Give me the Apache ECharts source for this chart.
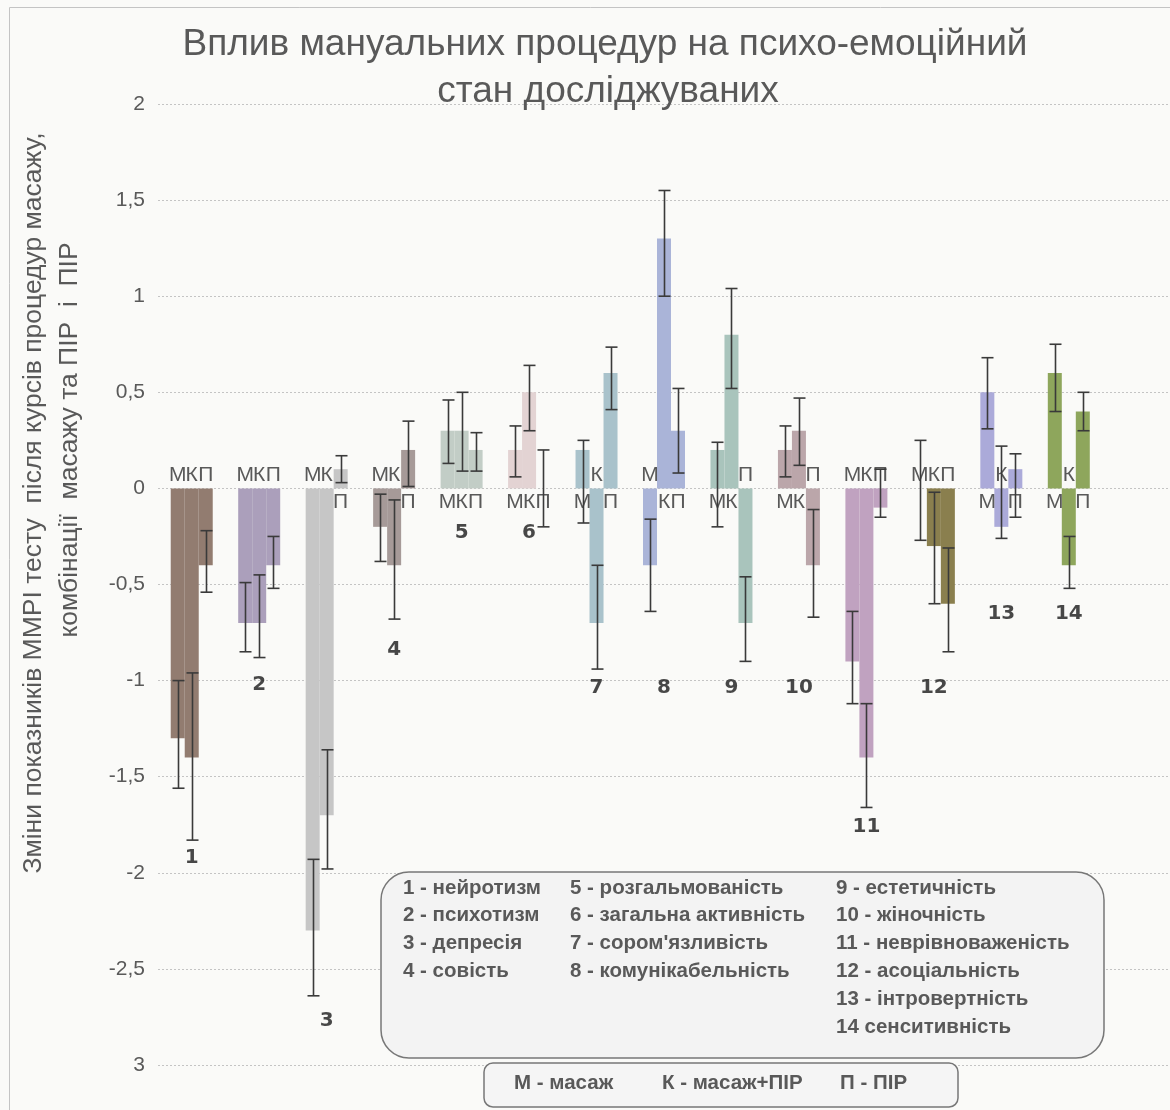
<!DOCTYPE html>
<html><head><meta charset="utf-8">
<script src="https://cdn.jsdelivr.net/npm/echarts@6/dist/echarts.min.js"></script>
<style>html,body{margin:0;padding:0;background:#fafaf8}#c{width:1170px;height:1110px}</style>
</head><body><div id="c"></div><script>
// ---- data ----
const categories = ['1','2','3','4','5','6','7','8','9','10','11','12','13','14'];
const seriesLetters = ['М','К','П'];
const massage  = [-1.3,-0.7,-2.3,-0.2,0.3,0.2,0.2,-0.4,0.2,0.2,-0.9,0,0.5,0.6];
const combined = [-1.4,-0.7,-1.7,-0.4,0.3,0.5,-0.7,1.3,0.8,0.3,-1.4,-0.3,-0.2,-0.4];
const pir      = [-0.4,-0.4,0.1,0.2,0.2,0,0.6,0.3,-0.7,-0.4,-0.1,-0.6,0.1,0.4];
const massageErrLow   = [-1.56,-0.85,-2.64,-0.38,0.13,0.06,-0.18,-0.64,-0.2,0.06,-1.12,-0.27,0.31,0.4];
const massageErrHigh  = [-1.0,-0.49,-1.93,-0.03,0.46,0.325,0.25,-0.16,0.24,0.325,-0.64,0.25,0.68,0.75];
const combinedErrLow  = [-1.83,-0.88,-1.98,-0.68,0.09,0.3,-0.94,1.0,0.52,0.12,-1.66,-0.6,-0.26,-0.52];
const combinedErrHigh = [-0.96,-0.45,-1.36,-0.06,0.5,0.64,-0.4,1.55,1.04,0.47,-1.12,-0.02,0.22,-0.25];
const pirErrLow       = [-0.54,-0.52,0.03,0.01,0.09,-0.2,0.41,0.08,-0.9,-0.67,-0.15,-0.85,-0.15,0.3];
const pirErrHigh      = [-0.22,-0.25,0.17,0.35,0.29,0.2,0.735,0.52,-0.46,-0.11,0.1,-0.31,0.18,0.5];
const yTickLabels = ['3','-2,5','-2','-1,5','-1','-0,5','0','0,5','1','1,5','2'];
const groupLabelLevels = [-1.92,-1.02,-2.77,-0.84,-0.23,-0.23,-1.04,-1.04,-1.04,-1.04,-1.76,-1.04,-0.65,-0.65];
const indicatorNames = ['1 - нейротизм','2 - психотизм','3 - депресія','4 - совість',
  '5 - розгальмованість','6 - загальна активність',"7 - сором'язливість",'8 - комунікабельність',
  '9 - естетичність','10 - жіночність','11 - неврівноваженість','12 - асоціальність','13 - інтровертність','14 сенситивність'];
const methodNames = ['М - масаж','К - масаж+ПІР','П - ПІР'];
const titleLines = ['Вплив мануальних процедур на психо-емоційний','стан досліджуваних'];
const yTitleLines = ['Зміни показників ММРІ тесту  після курсів процедур масажу,','комбінації  масажу та ПІР  і  ПІР'];

// ---- style ----
const GROUP_COLORS = ['#927c70','#ab9fbb','#c6c6c6','#a69a98','#c2cdc6','#e3d3d3','#a9c2cb',
  '#aab4d8','#a9c4bc','#bba6aa','#c0a2c0','#8a7f4e','#abaad9','#8ea65c'];
const BAR_W = 14;
const TXT = '#595959';
const FONT = '"Liberation Sans", Arial, sans-serif';

const chart = echarts.init(document.getElementById('c'));

function barData(values) {
  return values.map((v, i) => {
    let side = v;
    if (v === 0) side = massage[i] + combined[i] + pir[i];
    return { value: v, itemStyle: { color: GROUP_COLORS[i] },
      label: { position: side > 0 ? 'bottom' : 'top' } };
  });
}
function barSeries(values, k) {
  return { type: 'bar', name: seriesLetters[k], data: barData(values), barWidth: BAR_W, barGap: '0%',
    z: 2, silent: true,
    label: { show: true, formatter: () => seriesLetters[k], distance: 3, fontSize: 21,
      color: TXT, fontFamily: FONT } };
}
function errSeries(low, high, k) {
  return { type: 'custom', silent: true, z: 5,
    data: low.map((l, i) => [i, l, high[i]]),
    encode: { x: 0, y: [1, 2] },
    renderItem(params, api) {
      const i = api.value(0);
      const p1 = api.coord([i, api.value(1)]);
      const p2 = api.coord([i, api.value(2)]);
      const x = Math.round(p1[0] + (k - 1) * BAR_W) + 0.5;
      const c = 6;
      const style = { stroke: '#3a3a3a', lineWidth: 1.6 };
      return { type: 'group', children: [
        { type: 'line', shape: { x1: x, y1: p1[1], x2: x, y2: p2[1] }, style },
        { type: 'line', shape: { x1: x - c, y1: p1[1], x2: x + c, y2: p1[1] }, style },
        { type: 'line', shape: { x1: x - c, y1: p2[1], x2: x + c, y2: p2[1] }, style }
      ] };
    } };
}

const graphic = [
  { type: 'rect', z: 0, shape: { x: 9.5, y: 7.5, width: 1400, height: 1400 },
    style: { fill: null, stroke: '#c4c4c4', lineWidth: 1 } },
  { type: 'text', x: 605, y: 45, z: 10, style: { text: titleLines[0], align: 'center', verticalAlign: 'middle',
      fontSize: 37, fontFamily: FONT, fill: TXT } },
  { type: 'text', x: 608, y: 92, z: 10, style: { text: titleLines[1], align: 'center', verticalAlign: 'middle',
      fontSize: 37, fontFamily: FONT, fill: TXT } },
  { type: 'text', x: 34, y: 503, rotation: Math.PI / 2, z: 10, style: { text: yTitleLines[0], align: 'center',
      verticalAlign: 'middle', fontSize: 26.5, fontFamily: FONT, fill: TXT } },
  { type: 'text', x: 70, y: 440, rotation: Math.PI / 2, z: 10, style: { text: yTitleLines[1], align: 'center',
      verticalAlign: 'middle', fontSize: 26.5, fontFamily: FONT, fill: TXT } },
  { type: 'rect', z: 20, shape: { x: 381, y: 872, width: 723, height: 186, r: 28 },
    style: { fill: '#f3f3f3', stroke: '#777', lineWidth: 1.5 } },
  { type: 'rect', z: 20, shape: { x: 484, y: 1063, width: 474, height: 44, r: 9 },
    style: { fill: '#f5f5f5', stroke: '#777', lineWidth: 1.5 } }
];
const colX = [403, 570, 836];
indicatorNames.forEach((t, i) => {
  const col = i < 4 ? 0 : (i < 8 ? 1 : 2);
  const row = i < 8 ? i % 4 : i - 8;
  graphic.push({ type: 'text', z: 21, x: colX[col], y: 888 + row * 27.8,
    style: { text: t, verticalAlign: 'middle', fontSize: 20.5, fontWeight: 'bold', fontFamily: FONT, fill: TXT } });
});
const mX = [514, 662, 840];
methodNames.forEach((t, i) => {
  graphic.push({ type: 'text', z: 21, x: mX[i], y: 1083,
    style: { text: t, verticalAlign: 'middle', fontSize: 20.5, fontWeight: 'bold', fontFamily: FONT, fill: TXT } });
});

chart.setOption({
  backgroundColor: '#fafaf8',
  animation: false,
  grid: { left: 158, top: 104, width: 1020, height: 961, containLabel: false },
  xAxis: { type: 'category', data: categories, max: 14,
    axisLine: { show: false }, axisTick: { show: false }, axisLabel: { show: false }, splitLine: { show: false } },
  yAxis: { type: 'value', min: -3, max: 2, interval: 0.5,
    axisLine: { show: false }, axisTick: { show: false },
    axisLabel: { margin: 13, fontSize: 21, color: TXT, fontFamily: FONT,
      formatter: v => yTickLabels[Math.round((v + 3) / 0.5)] },
    splitLine: { show: true, lineStyle: { color: '#c4c4c4', type: [2, 2], width: 1 } } },
  graphic,
  series: [
    barSeries(massage, 0), barSeries(combined, 1), barSeries(pir, 2),
    errSeries(massageErrLow, massageErrHigh, 0),
    errSeries(combinedErrLow, combinedErrHigh, 1),
    errSeries(pirErrLow, pirErrHigh, 2),
    { type: 'scatter', silent: true, z: 6, symbolSize: 1, itemStyle: { color: 'rgba(0,0,0,0)' },
      data: groupLabelLevels.map((y, i) => [i, y]),
      label: { show: true, position: 'inside', formatter: p => categories[p.dataIndex],
        fontSize: 20, fontWeight: 'bold', color: '#1a1a1a', fontFamily: '"DejaVu Sans", sans-serif' } }
  ]
});
</script></body></html>
